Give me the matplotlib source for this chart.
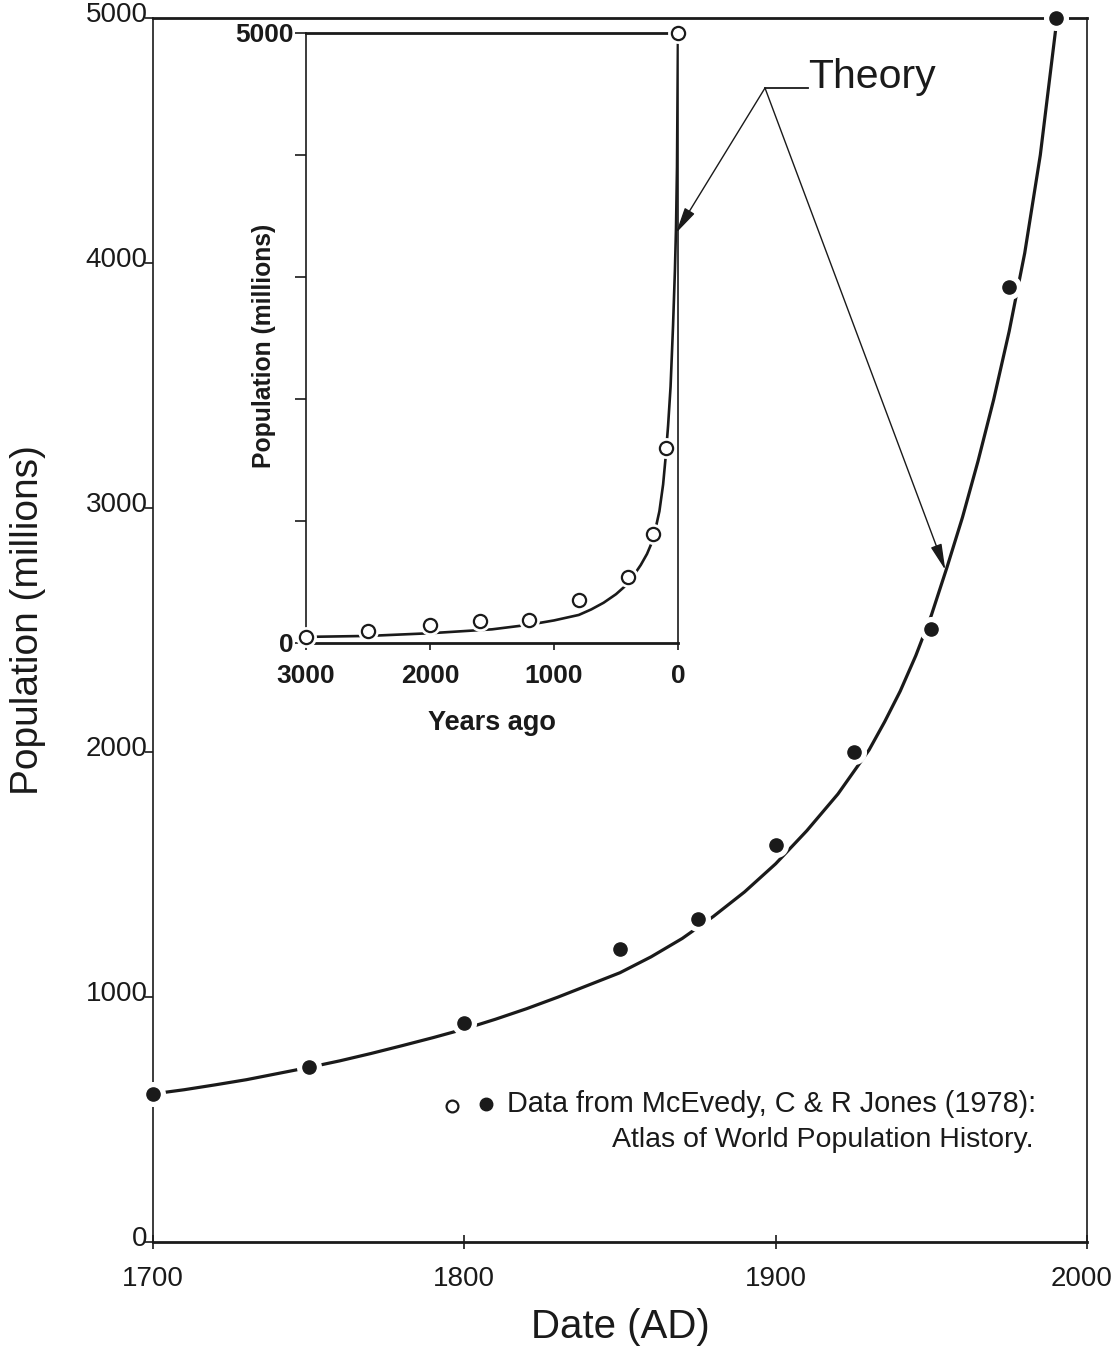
import matplotlib
matplotlib.use('Agg')
import matplotlib.pyplot as plt
import matplotlib.transforms as mtransforms
from matplotlib.lines import Line2D

plt.rcParams['font.family'] = ['Liberation Sans', 'DejaVu Sans']

# ---------------- data ----------------
# main panel: observed world population (filled circles)
years = [1700, 1750, 1800, 1850, 1875, 1900, 1925, 1950, 1975, 1990]
population = [605, 715, 895, 1195, 1320, 1620, 2000, 2505, 3900, 5000]

# main panel: theory curve
theory_years = [1700, 1710, 1720, 1730, 1740, 1750, 1760, 1770, 1780, 1790,
                1800, 1810, 1820, 1830, 1840, 1850, 1860, 1870, 1880, 1890,
                1900, 1910, 1920, 1930, 1935, 1940, 1945, 1950, 1955, 1960,
                1965, 1970, 1975, 1980, 1985, 1990]
theory_pop = [605, 622, 642, 663, 688, 713, 740, 770, 802, 835,
              870, 910, 953, 1000, 1050, 1100, 1165, 1240, 1330, 1430,
              1545, 1680, 1830, 2010, 2125, 2250, 2395, 2560, 2755, 2960,
              3190, 3440, 3720, 4040, 4440, 4960]

# inset: observed population vs years ago (open circles)
years_ago = [3000, 2500, 2000, 1600, 1200, 800, 400, 200, 100, 0]
inset_pop = [50, 100, 150, 180, 190, 350, 545, 890, 1600, 5000]

# inset: theory curve
inset_theory_ago = [3000, 2500, 2000, 1500, 1200, 1000, 800, 700, 600, 500,
                    400, 300, 250, 200, 150, 120, 100, 80, 60, 40,
                    25, 16, 8, 0]
inset_theory_pop = [50, 58, 80, 112, 150, 185, 230, 275, 330, 400,
                    490, 640, 730, 850, 1080, 1300, 1520, 1780, 2100, 2600,
                    3050, 3400, 3900, 5000]

main_xticks = [1700, 1800, 1900, 2000]
main_yticks = [0, 1000, 2000, 3000, 4000, 5000]
inset_xticks = [3000, 2000, 1000, 0]
inset_yticks = [0, 1000, 2000, 3000, 4000, 5000]
inset_yticklabels = ['0', '', '', '', '', '5000']

INK = '#1a1a1a'

# ---------------- figure ----------------
W, H = 1114, 1348
fig = plt.figure(figsize=(W / 100, H / 100), dpi=100)


def fx(px):
    return px / W


def fy(py):
    return 1 - py / H


ax = fig.add_axes([fx(153), fy(1242), fx(1087) - fx(153), fy(18) - fy(1242)])
ax.set_xlim(1700, 2000)
ax.set_ylim(0, 5000)

ax.plot(theory_years, theory_pop, color=INK, lw=2.3,
        solid_capstyle='round', solid_joinstyle='round', zorder=2)
ax.plot(years, population, 'o', ms=17, color='white', zorder=3, clip_on=False)
ax.plot(years, population, 'o', ms=9.5, color=INK, zorder=4, clip_on=False)

for side in ['top', 'bottom']:
    ax.spines[side].set_linewidth(2.0)
for side in ['left', 'right']:
    ax.spines[side].set_linewidth(1.2)
for s in ax.spines.values():
    s.set_color(INK)

ax.set_xticks(main_xticks)
ax.set_yticks(main_yticks)
ax.tick_params(axis='x', direction='inout', length=10, width=1.2,
               labelsize=20, pad=12, colors=INK)
ax.tick_params(axis='y', direction='out', length=6, width=1.2,
               labelsize=20, pad=0, colors=INK)
off = mtransforms.ScaledTranslation(0.03, 0.06, fig.dpi_scale_trans)
for lab in ax.get_yticklabels():
    lab.set_transform(lab.get_transform() + off)
xlabs = ax.get_xticklabels()
off_last = mtransforms.ScaledTranslation(-0.05, 0, fig.dpi_scale_trans)
xlabs[-1].set_transform(xlabs[-1].get_transform() + off_last)

ax.set_xlabel('Date (AD)', fontsize=29, labelpad=12, color=INK)
ax.set_ylabel('Population (millions)', fontsize=28, color=INK)
ax.yaxis.set_label_coords(-0.1146, 0.508)

# legend-like note
ax.plot([0.320], [0.111], 'o', ms=8.5, mfc='white', mec=INK, mew=1.6,
        transform=ax.transAxes, clip_on=False)
ax.plot([0.3565], [0.1127], 'o', ms=9, color=INK,
        transform=ax.transAxes, clip_on=False)
ax.text(0.379, 0.1127, 'Data from McEvedy, C & R Jones (1978):',
        transform=ax.transAxes, fontsize=20.8, va='center', ha='left',
        color=INK)
ax.text(0.943, 0.0833, 'Atlas of World Population History.',
        transform=ax.transAxes, fontsize=20.5, va='center', ha='right',
        color=INK)

# ---------------- inset ----------------
ins = fig.add_axes([fx(306), fy(643), fx(678) - fx(306), fy(33) - fy(643)])
ins.set_xlim(3000, 0)
ins.set_ylim(0, 5000)
ins.plot(inset_theory_ago, inset_theory_pop, color=INK, lw=1.9,
         solid_capstyle='round', solid_joinstyle='round', zorder=2)
ins.plot(years_ago, inset_pop, 'o', ms=14, color='white', zorder=3, clip_on=False)
ins.plot(years_ago, inset_pop, 'o', ms=9.5, mfc='white', mec=INK, mew=1.6,
         zorder=4, clip_on=False)
for side in ['top', 'bottom']:
    ins.spines[side].set_linewidth(2.0)
for side in ['left', 'right']:
    ins.spines[side].set_linewidth(1.2)
for s in ins.spines.values():
    s.set_color(INK)
ins.set_xticks(inset_xticks)
ins.set_yticks(inset_yticks)
ins.set_yticklabels(inset_yticklabels)
ins.tick_params(axis='x', direction='out', length=5, width=1.2, labelsize=19,
                pad=10, colors=INK)
ins.tick_params(axis='y', direction='out', length=8, width=1.2, labelsize=19,
                pad=1, colors=INK)
for lab in ins.get_xticklabels() + ins.get_yticklabels():
    lab.set_fontweight('bold')
ins.set_xlabel('Years ago', fontsize=19.5, fontweight='bold', labelpad=16,
               color=INK)
ins.set_ylabel('Population (millions)', fontsize=17.8, fontweight='bold',
               color=INK)
ins.yaxis.set_label_coords(-0.080, 0.487)

# ---------------- Theory annotation ----------------
apex = (fx(765), fy(88))
fig.add_artist(Line2D([fx(765), fx(808)], [fy(88), fy(88)], color=INK,
                      lw=1.3, transform=fig.transFigure))
fig.text(fx(808), fy(88), 'Theory', fontsize=29.5, ha='left', va='baseline',
         color=INK)
arrow = dict(arrowstyle='-|>,head_length=1.6,head_width=0.35',
             color=INK, lw=1.0, shrinkA=0, shrinkB=0)
ax.annotate('', xy=(1954.5, 2745), xycoords='data', xytext=apex,
            textcoords='figure fraction', arrowprops=arrow, zorder=6)
ins.annotate('', xy=(16, 3360), xycoords='data', xytext=apex,
             textcoords='figure fraction', arrowprops=arrow, zorder=6,
             annotation_clip=False)

fig.savefig('out.png', dpi=100)
